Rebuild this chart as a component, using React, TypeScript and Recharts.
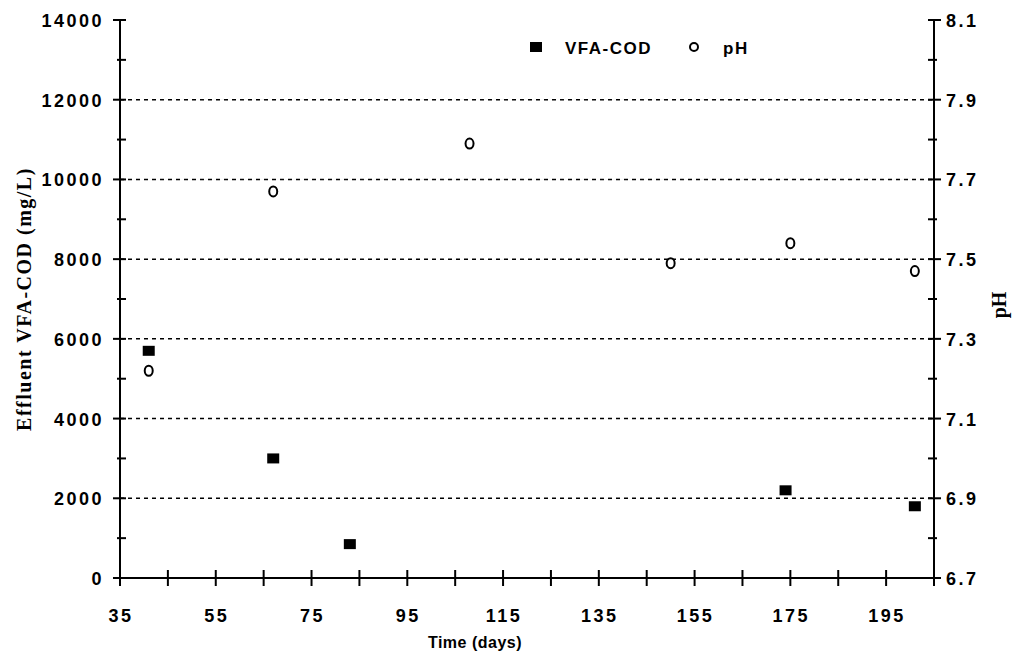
import React from "react";
import {
  ScatterChart, Scatter, XAxis, YAxis, ReferenceLine, Label,
} from "recharts";

// Time (days) for each series
const vfaDays = [41, 67, 83, 174, 201];
const vfaCod = [5700, 3000, 850, 2200, 1800];

const phDays = [41, 67, 108, 150, 175, 201];
const phValues = [7.22, 7.67, 7.79, 7.49, 7.54, 7.47];

const xTicks = [35, 45, 55, 65, 75, 85, 95, 105, 115, 125, 135, 145, 155, 165, 175, 185, 195, 205];
const xLabels = [35, 55, 75, 95, 115, 135, 155, 175, 195];
const codTicks = [0, 1000, 2000, 3000, 4000, 5000, 6000, 7000, 8000, 9000, 10000, 11000, 12000, 13000, 14000];
const codLabels = [0, 2000, 4000, 6000, 8000, 10000, 12000, 14000];
const phTicks = [6.7, 6.8, 6.9, 7.0, 7.1, 7.2, 7.3, 7.4, 7.5, 7.6, 7.7, 7.8, 7.9, 8.0, 8.1];
const phLabels = ["6.7", "6.9", "7.1", "7.3", "7.5", "7.7", "7.9", "8.1"];
const gridLines = [2000, 4000, 6000, 8000, 10000, 12000];

const vfaData = vfaDays.map((d, i) => ({ day: d, cod: vfaCod[i] }));
const phData = phDays.map((d, i) => ({ day: d, ph: phValues[i] }));

const tickFont = {
  fontFamily: "'Liberation Sans', Arial, sans-serif",
  fontWeight: 700,
  fontSize: 18,
  letterSpacing: 2.5,
  fill: "#000",
};

const serifFont = {
  fontFamily: "'Liberation Serif', 'Times New Roman', serif",
  fontWeight: 700,
  fontSize: 20,
  fill: "#000",
};

function XTick({ x, y, payload }: any) {
  const v = payload.value;
  const major = xLabels.includes(v);
  return (
    <g>
      <line x1={x} x2={x} y1={y - 8} y2={y + 8} stroke="#000" strokeWidth={2} />
      {major && (
        <text x={x + 1} y={y + 44} textAnchor="middle" {...tickFont}>{v}</text>
      )}
    </g>
  );
}

function LeftTick({ x, y, payload }: any) {
  const v = payload.value;
  const major = codLabels.includes(v);
  return (
    <g>
      <line x1={major ? x - 7 : x - 3} x2={x + 6} y1={y} y2={y} stroke="#000" strokeWidth={2} />
      {major && (
        <text x={x - 16} y={y + 7} textAnchor="end" {...tickFont}>{v}</text>
      )}
    </g>
  );
}

function RightTick({ x, y, payload }: any) {
  const label = payload.value.toFixed(1);
  const major = phLabels.includes(label);
  return (
    <g>
      <line x1={x - 6} x2={major ? x + 7 : x + 3} y1={y} y2={y} stroke="#000" strokeWidth={2} />
      {major && (
        <text x={x + 12} y={y + 7} textAnchor="start" {...tickFont}>{label}</text>
      )}
    </g>
  );
}

function SquareDot({ cx, cy }: any) {
  return <rect x={cx - 6} y={cy - 5} width={12} height={10} fill="#000" />;
}

function CircleDot({ cx, cy }: any) {
  return <ellipse cx={cx} cy={cy} rx={4} ry={5} fill="#fff" stroke="#000" strokeWidth={2} />;
}

function LegendBox() {
  const f = { ...tickFont, fontSize: 17, letterSpacing: 1.5 };
  return (
    <svg
      width={240}
      height={30}
      style={{ position: "absolute", left: 529, top: 32 }}
    >
      <rect x={1} y={10} width={12} height={10} fill="#000" />
      <text x={36} y={22} {...f}>VFA-COD</text>
      <ellipse cx={165} cy={15} rx={4} ry={4} fill="#fff" stroke="#000" strokeWidth={2} />
      <text x={194} y={22} {...f}>pH</text>
    </svg>
  );
}

export default function App() {
  return (
    <div style={{ position: "absolute", left: 0, top: 0, width: 1016, height: 654, background: "#fff" }}>
      <ScatterChart
        width={1016}
        height={654}
        margin={{ top: 20, right: 0, bottom: 0, left: 0 }}
      >
        <XAxis
          type="number"
          dataKey="day"
          domain={[35, 205]}
          ticks={xTicks}
          interval={0}
          tick={<XTick />}
          tickLine={false}
          tickSize={0}
          tickMargin={0}
          axisLine={{ stroke: "#000", strokeWidth: 2 }}
          height={76}
          allowDataOverflow
        >
          <Label
            content={({ viewBox }: any) => (
              <text
                x={viewBox.x + viewBox.width / 2 - 52}
                y={viewBox.y + 70}
                textAnchor="middle"
                {...tickFont}
                fontSize={16}
                letterSpacing={0.5}
              >
                Time  (days)
              </text>
            )}
          />
        </XAxis>
        <YAxis
          yAxisId="cod"
          type="number"
          dataKey="cod"
          domain={[0, 14000]}
          ticks={codTicks}
          interval={0}
          tick={<LeftTick />}
          tickLine={false}
          tickSize={0}
          tickMargin={0}
          axisLine={{ stroke: "#000", strokeWidth: 2 }}
          width={120}
        >
          <Label
            content={({ viewBox }: any) => {
              const cx = 24;
              const cy = viewBox.y + viewBox.height / 2;
              return (
                <text
                  x={cx}
                  y={cy}
                  transform={`rotate(-90 ${cx} ${cy})`}
                  textAnchor="middle"
                  dominantBaseline="central"
                  {...serifFont}
                  letterSpacing={1.5}
                >
                  Effluent VFA-COD  (mg/L)
                </text>
              );
            }}
          />
        </YAxis>
        <YAxis
          yAxisId="ph"
          orientation="right"
          type="number"
          dataKey="ph"
          domain={[6.7, 8.1]}
          ticks={phTicks}
          interval={0}
          tick={<RightTick />}
          tickLine={false}
          tickSize={0}
          tickMargin={0}
          axisLine={{ stroke: "#000", strokeWidth: 2 }}
          width={82}
        >
          <Label
            content={({ viewBox }: any) => {
              const cx = 999;
              const cy = viewBox.y + viewBox.height / 2 + 6;
              return (
                <text
                  x={cx}
                  y={cy}
                  transform={`rotate(-90 ${cx} ${cy})`}
                  textAnchor="middle"
                  dominantBaseline="central"
                  {...serifFont}
                >
                  pH
                </text>
              );
            }}
          />
        </YAxis>
        {gridLines.map((g) => (
          <ReferenceLine
            key={g}
            yAxisId="cod"
            y={g}
            stroke="#000"
            strokeWidth={1.5}
            strokeDasharray="4 4"
          />
        ))}
        <Scatter
          name="VFA-COD"
          yAxisId="cod"
          data={vfaData}
          dataKey="cod"
          shape={<SquareDot />}
          isAnimationActive={false}
        />
        <Scatter
          name="pH"
          yAxisId="ph"
          data={phData}
          dataKey="ph"
          shape={<CircleDot />}
          isAnimationActive={false}
        />
      </ScatterChart>
      <LegendBox />
    </div>
  );
}
